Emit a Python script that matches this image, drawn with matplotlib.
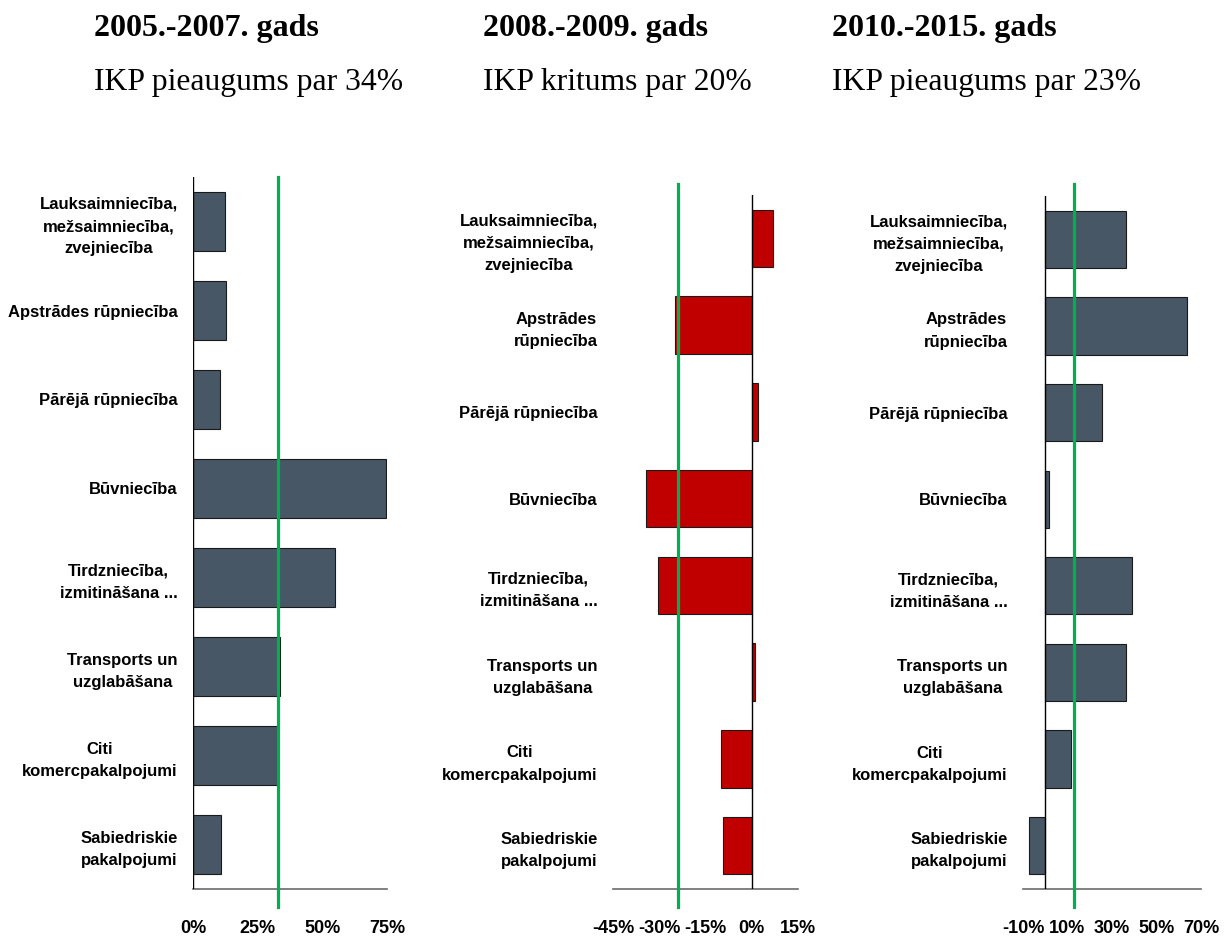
import matplotlib
matplotlib.use("Agg")
import matplotlib.pyplot as plt
from matplotlib.ticker import FuncFormatter

# sectors, top to bottom
labels_1 = ["Lauksaimniecība,\nmežsaimniecība,\nzvejniecība", "Apstrādes rūpniecība",
            "Pārējā rūpniecība", "Būvniecība", "Tirdzniecība,\nizmitināšana ...",
            "Transports un\nuzglabāšana", "Citi\nkomercpakalpojumi",
            "Sabiedriskie\npakalpojumi"]
labels_23 = ["Lauksaimniecība,\nmežsaimniecība,\nzvejniecība", "Apstrādes\nrūpniecība",
             "Pārējā rūpniecība", "Būvniecība", "Tirdzniecība,\nizmitināšana ...",
             "Transports un\nuzglabāšana", "Citi\nkomercpakalpojumi",
             "Sabiedriskie\npakalpojumi"]

# growth by sector, %
growth_0507 = [12.3, 12.7, 10.4, 74.5, 54.9, 33.6, 32.3, 11.0]
growth_0809 = [6.9, -25.0, 2.0, -34.4, -30.5, 1.0, -10.1, -9.3]
growth_1015 = [36.3, 63.9, 25.4, 1.5, 38.8, 36.2, 11.6, -7.1]

# GDP change reference lines, %
gdp_lines = [33.0, -23.9, 13.1]

titles = ["2005.-2007. gads", "2008.-2009. gads", "2010.-2015. gads"]
subtitles = ["IKP pieaugums par 34%", "IKP kritums par 20%", "IKP pieaugums par 23%"]

xticks = [[0, 25, 50, 75], [-45, -30, -15, 0, 15], [-10, 10, 30, 50, 70]]
xlims = [(0, 75), (-45, 15), (-10, 70)]

W, H = 1229, 936
fig = plt.figure(figsize=(W / 100, H / 100), dpi=100)

# axes boxes in pixels: left, right, top, bottom
boxes = [(193, 387, 177, 889), (613, 798, 195, 889), (1023, 1201, 196, 889)]
title_x = [94, 483, 832]
colors = ["#485766", "#C00000", "#485766"]
green_top = [0, 11, 12]

series = [growth_0507, growth_0809, growth_1015]
ylabels = [labels_1, labels_23, labels_23]

for i in range(3):
    l, r, t, b = boxes[i]
    ax = fig.add_axes([l / W, (H - b) / H, (r - l) / W, (b - t) / H])
    y = range(len(series[i]))
    ax.barh(y, series[i], height=0.66, color=colors[i], edgecolor="#1a1a1a",
            linewidth=0.8, zorder=2)
    ax.set_ylim(len(series[i]) - 0.5, -0.5)
    ax.set_xlim(*xlims[i])
    ax.set_xticks(xticks[i])
    ax.xaxis.set_major_formatter(FuncFormatter(lambda v, p: f"{v:.0f}%"))
    ax.set_yticks(list(y))
    ax.set_yticklabels(ylabels[i], ha="right", multialignment="center",
                       family="Liberation Sans", fontweight="bold", fontsize=12,
                       linespacing=1.6)
    for lab in ax.get_xticklabels():
        lab.set_family("Liberation Sans")
        lab.set_fontweight("bold")
        lab.set_fontsize(13)
    ax.tick_params(axis="y", length=0, pad=11)
    ax.tick_params(axis="x", length=0, pad=22)
    for s in ["top", "right", "left"]:
        ax.spines[s].set_visible(False)
    ax.spines["bottom"].set_color("#6b6b6b")
    ax.spines["bottom"].set_linewidth(1.2)
    ax.axvline(0, color="black", linewidth=1.0, zorder=3)
    gh = b - t
    ax.axvline(gdp_lines[i], ymin=-18 / gh, ymax=1 + green_top[i] / gh,
               color="#00B050", linewidth=2.3, clip_on=False, zorder=4)

    fig.text(title_x[i] / W, 1 - 36 / H, titles[i], family="Liberation Serif",
             fontweight="bold", fontsize=23, ha="left", va="baseline")
    fig.text(title_x[i] / W, 1 - 90 / H, subtitles[i], family="Liberation Serif",
             fontsize=22.8, ha="left", va="baseline")

fig.savefig("out.png", dpi=100)
